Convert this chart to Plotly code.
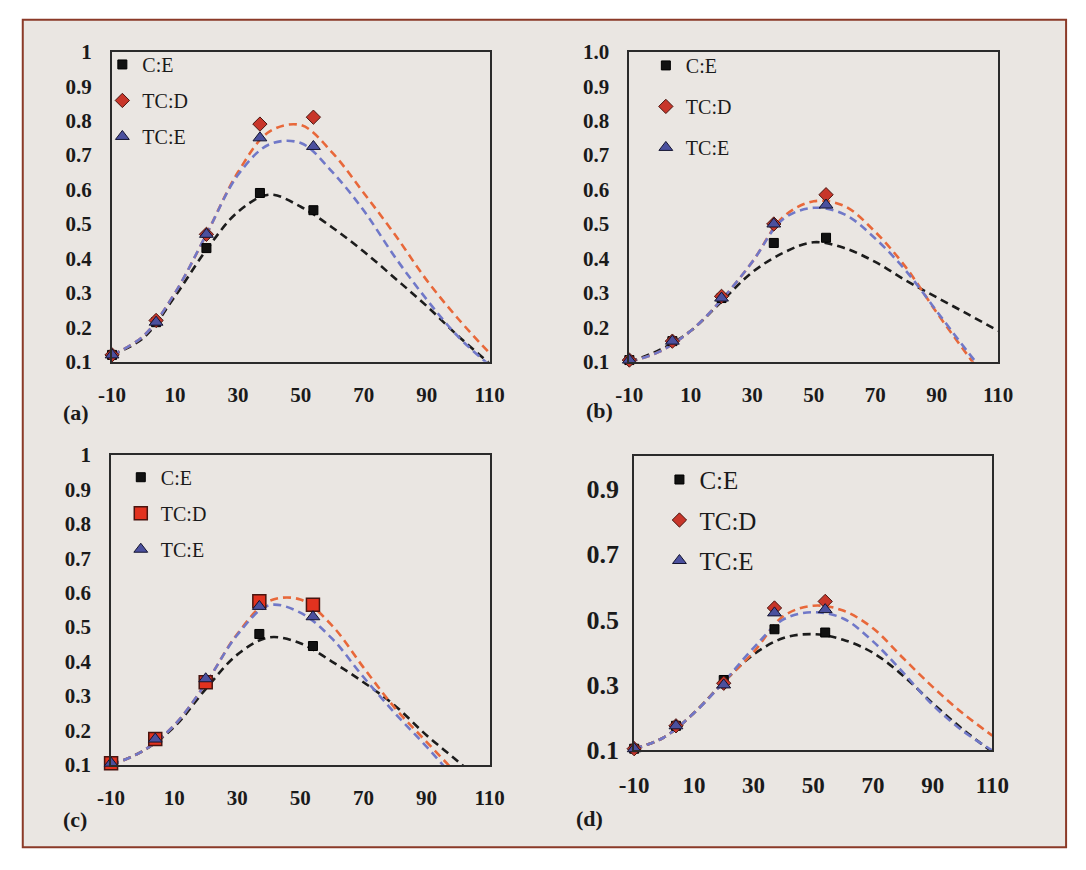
import plotly.graph_objects as go

# ---------------- data ----------------
MARKER_X = [-10, 4, 20, 37, 54]
CURVE_X = [-10, 0, 10, 20, 30, 40, 50, 60, 70, 80, 90, 100, 110]
SERIES = ["C:E", "TC:D", "TC:E"]
PANEL_LABELS = ["(a)", "(b)", "(c)", "(d)"]

# panel (a)
A_CE = [0.12, 0.215, 0.43, 0.59, 0.54]
A_TCD = [0.12, 0.22, 0.47, 0.79, 0.81]
A_TCE = [0.12, 0.215, 0.47, 0.75, 0.725]
A_CE_FIT = [0.12, 0.17, 0.29, 0.425, 0.535, 0.585, 0.55, 0.49, 0.42, 0.342, 0.262, 0.175, 0.095]
A_TCD_FIT = [0.12, 0.175, 0.30, 0.47, 0.65, 0.768, 0.787, 0.707, 0.59, 0.468, 0.337, 0.225, 0.125]
A_TCE_FIT = [0.12, 0.175, 0.30, 0.47, 0.642, 0.731, 0.735, 0.651, 0.539, 0.403, 0.281, 0.173, 0.09]

# panel (b)
B_CE = [0.105, 0.16, 0.285, 0.445, 0.46]
B_TCD = [0.105, 0.16, 0.29, 0.50, 0.585]
B_TCE = [0.105, 0.16, 0.285, 0.50, 0.555]
B_CE_FIT = [0.1, 0.135, 0.19, 0.275, 0.36, 0.416, 0.447, 0.43, 0.39, 0.336, 0.287, 0.239, 0.19]
B_TCD_FIT = [0.1, 0.13, 0.19, 0.28, 0.39, 0.52, 0.566, 0.552, 0.477, 0.374, 0.243, 0.12, 0.0]
B_TCE_FIT = [0.1, 0.13, 0.19, 0.28, 0.39, 0.514, 0.547, 0.528, 0.458, 0.364, 0.247, 0.13, 0.02]

# panel (c)
C_CE = [0.105, 0.175, 0.345, 0.48, 0.445]
C_TCD = [0.105, 0.175, 0.34, 0.575, 0.565]
C_TCE = [0.105, 0.175, 0.35, 0.56, 0.53]
C_CE_FIT = [0.1, 0.14, 0.21, 0.32, 0.42, 0.47, 0.453, 0.40, 0.34, 0.272, 0.186, 0.11, 0.03]
C_TCD_FIT = [0.1, 0.14, 0.215, 0.336, 0.48, 0.575, 0.58, 0.505, 0.383, 0.265, 0.167, 0.07, -0.03]
C_TCE_FIT = [0.1, 0.14, 0.215, 0.336, 0.477, 0.563, 0.542, 0.467, 0.355, 0.25, 0.153, 0.05, -0.05]

# panel (d)
D_CE = [0.105, 0.175, 0.315, 0.47, 0.46]
D_TCD = [0.105, 0.175, 0.305, 0.535, 0.555]
D_TCE = [0.105, 0.175, 0.30, 0.52, 0.53]
D_CE_FIT = [0.105, 0.14, 0.214, 0.309, 0.393, 0.443, 0.455, 0.438, 0.398, 0.329, 0.244, 0.165, 0.095]
D_TCD_FIT = [0.105, 0.14, 0.214, 0.309, 0.40, 0.51, 0.542, 0.527, 0.473, 0.383, 0.294, 0.214, 0.145]
D_TCE_FIT = [0.105, 0.14, 0.214, 0.309, 0.413, 0.50, 0.522, 0.503, 0.433, 0.339, 0.239, 0.16, 0.1]

X_TICKVALS = [-10, 10, 30, 50, 70, 90, 110]
X_TICKTEXT = ["-10", "10", "30", "50", "70", "90", "110"]
Y_TICKVALS = [0.1, 0.2, 0.3, 0.4, 0.5, 0.6, 0.7, 0.8, 0.9, 1.0]
Y_TICKTEXT_AC = ["0.1", "0.2", "0.3", "0.4", "0.5", "0.6", "0.7", "0.8", "0.9", "1"]
Y_TICKTEXT_B = ["0.1", "0.2", "0.3", "0.4", "0.5", "0.6", "0.7", "0.8", "0.9", "1.0"]
Y_TICKVALS_D = [0.1, 0.3, 0.5, 0.7, 0.9]
Y_TICKTEXT_D = ["0.1", "0.3", "0.5", "0.7", "0.9"]

PANELS = [
    (A_CE, A_TCD, A_TCE, A_CE_FIT, A_TCD_FIT, A_TCE_FIT),
    (B_CE, B_TCD, B_TCE, B_CE_FIT, B_TCD_FIT, B_TCE_FIT),
    (C_CE, C_TCD, C_TCE, C_CE_FIT, C_TCD_FIT, C_TCE_FIT),
    (D_CE, D_TCD, D_TCE, D_CE_FIT, D_TCD_FIT, D_TCE_FIT),
]

# ---------------- layout geometry (pixels) ----------------
W, H = 1086, 870
BOX = [  # left, right, top, bottom in px
    (100, 489, 41, 361),
    (633, 1013, 41, 361),
    (99, 489, 457, 777),
    (638, 1007, 458, 762),
]
FONT = "Liberation Serif"
BG = "#EAE6E2"
AXC = "#2b2b2b"
FIT_COLORS = ["#1c1c1c", "#E8683A", "#7078C8"]
DASH = "8px,5px"

YTEXT = [Y_TICKTEXT_AC, Y_TICKTEXT_B, Y_TICKTEXT_AC, Y_TICKTEXT_D]
YVALS = [Y_TICKVALS, Y_TICKVALS, Y_TICKVALS, Y_TICKVALS_D]
YFONT = [21, 21, 21, 26]
XFONT = [21, 21, 21, 23]
YTICKLEN = [14, 14, 14, 8]
LEGFONT = [20, 20, 20, 25]
LEGGAP = [7, 12, 7, 5]
LEGPOS = [(90, 34), (650, 35), (109, 460), (664, 459)]
LABELPOS = [(63, 413), (602, 411), (62, 833), (592, 832)]

fig = go.Figure()

def marker_styles(panel):
    tcd = dict(symbol="diamond", size=11, color="#C8362A",
               line=dict(color="#4a1510", width=1))
    if panel == 2:
        tcd = dict(symbol="square", size=13, color="#E2321F",
                   line=dict(color="#4a1510", width=1.5))
    return [
        dict(symbol="square", size=9, color="#111111", line=dict(color="#000000", width=1)),
        tcd,
        dict(symbol="triangle-up", size=12, color="#4B509E",
             line=dict(color="#141430", width=1)),
    ]

for p, data in enumerate(PANELS):
    sfx = "" if p == 0 else str(p + 1)
    xa, ya = "x" + sfx, "y" + sfx
    leg = "legend" + sfx
    marks = data[:3]
    fits = data[3:]
    for s in range(3):
        fig.add_trace(go.Scatter(
            x=CURVE_X, y=fits[s], mode="lines", xaxis=xa, yaxis=ya,
            line=dict(color=FIT_COLORS[s], width=2.6, dash=DASH, shape="spline", smoothing=1.0),
            showlegend=False, hoverinfo="skip"))
    ms = marker_styles(p)
    for s in range(3):
        fig.add_trace(go.Scatter(
            x=MARKER_X, y=marks[s], mode="markers", xaxis=xa, yaxis=ya,
            marker=ms[s], name=SERIES[s], legend=leg,
            legendgroup=f"{p}-{s}", cliponaxis=False))

layout = dict(
    width=W, height=H, margin=dict(l=0, r=0, t=0, b=0),
    paper_bgcolor="white", plot_bgcolor=BG,
    font=dict(family=FONT, color="#1a1a1a"),
    shapes=[dict(type="rect", xref="paper", yref="paper",
                 x0=8 / W, x1=1083 / W, y0=1 - 862 / H, y1=1 - 8 / H,
                 line=dict(color="#8B3A28", width=2), fillcolor=BG, layer="below")],
    annotations=[],
)

for p in range(4):
    sfx = "" if p == 0 else str(p + 1)
    l, r, t, b = BOX[p]
    layout["xaxis" + sfx] = dict(
        domain=[l / W, r / W], anchor="y" + sfx, range=[-10, 110],
        tickvals=X_TICKVALS, ticktext=X_TICKTEXT, showgrid=False, zeroline=False,
        showline=True, linecolor=AXC, linewidth=2, mirror=True, ticks="",
        ticklabelstandoff=13,
        tickfont=dict(family=FONT, size=XFONT[p], weight="bold", color="#1a1a1a"))
    layout["yaxis" + sfx] = dict(
        domain=[1 - b / H, 1 - t / H], anchor="x" + sfx, range=[0.1, 1.0],
        tickvals=YVALS[p], ticktext=YTEXT[p], showgrid=False, zeroline=False,
        showline=True, linecolor=AXC, linewidth=2, mirror=True,
        ticks="outside", ticklen=YTICKLEN[p], tickcolor="rgba(0,0,0,0)",
        tickfont=dict(family=FONT, size=YFONT[p], weight="bold", color="#1a1a1a"))
    lx, ly = LEGPOS[p]
    layout["legend" + sfx] = dict(
        x=lx / W, y=1 - ly / H, xanchor="left", yanchor="top",
        bgcolor="rgba(0,0,0,0)", borderwidth=0, traceorder="grouped",
        tracegroupgap=LEGGAP[p], itemwidth=30,
        font=dict(family=FONT, size=LEGFONT[p], color="#1a1a1a"))
    cx, cy = LABELPOS[p]
    layout["annotations"].append(dict(
        text=PANEL_LABELS[p], xref="paper", yref="paper",
        x=cx / W, y=1 - cy / H, xanchor="center", yanchor="middle", showarrow=False,
        font=dict(family=FONT, size=22, weight="bold", color="#1a1a1a")))

fig.update_layout(**layout)
fig.write_html("out.html")
